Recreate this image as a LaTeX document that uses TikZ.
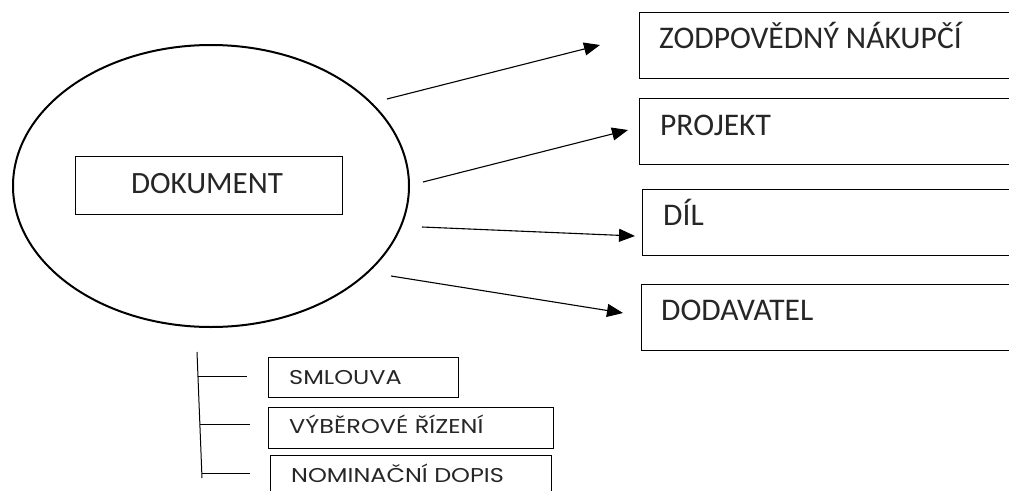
\documentclass[tikz,border=0pt]{standalone}
\usepackage{fontspec}
\newfontfamily\boxfont{Carlito}
\newfontfamily\smallfont[FakeStretch=1.2]{Poppins}
\usetikzlibrary{arrows.meta,shapes.geometric}
\begin{document}
\begin{tikzpicture}[x=1pt,y=-1pt,
  frame/.style={draw=black,line width=1.2pt,rectangle,inner sep=0pt,anchor=north west},
  bigtext/.style={inner sep=0pt,anchor=base west,font=\boxfont\fontsize{31.5}{31.5}\selectfont,text=black!85},
  smalltext/.style={inner sep=0pt,anchor=base west,font=\smallfont\fontsize{20}{20}\selectfont,text=black!85},
  link/.style={line width=1.1pt,-{Triangle[length=16pt,width=13pt]}},
  tick/.style={line width=1pt}]
\useasboundingbox (0,0) rectangle (1009,490);
% central ellipse
\node[draw,ellipse,line width=2pt,minimum width=396pt,minimum height=282pt,inner sep=0pt] (doc) at (211,186) {};
\node[frame,minimum width=267pt,minimum height=58pt] (dokbox) at (75,156) {};
\node[inner sep=0pt,anchor=base,font=\boxfont\fontsize{31}{31}\selectfont,text=black!85] (doktext) at (207,193) {DOKUMENT};
% right boxes
\node[frame,minimum width=390pt,minimum height=66pt] (b1) at (639,12) {};
\node[bigtext] (t1) at (659,48) {ZODPOVĚDNÝ NÁKUPČÍ};
\node[frame,minimum width=390pt,minimum height=66pt] (b2) at (639,98) {};
\node[bigtext] (t2) at (660,135) {PROJEKT};
\node[frame,minimum width=390pt,minimum height=66pt] (b3) at (642,189) {};
\node[bigtext] (t3) at (663,225) {DÍL};
\node[frame,minimum width=390pt,minimum height=66pt] (b4) at (641,284) {};
\node[bigtext] (t4) at (661,320) {DODAVATEL};
% arrows
\coordinate (s1) at (387,99);  \coordinate (e1) at (600,45);
\coordinate (s2) at (423,182); \coordinate (e2) at (628,130);
\coordinate (s3) at (422,227); \coordinate (e3) at (635,236);
\coordinate (s4) at (391,276); \coordinate (e4) at (623,313);
\draw[link] (s1) -- (e1);
\draw[link] (s2) -- (e2);
\draw[link] (s3) -- (e3);
\draw[link] (s4) -- (e4);
% lower list
\node[frame,minimum width=190pt,minimum height=40pt] (c1) at (268,357) {};
\node[smalltext] (u1) at (289,384) {SMLOUVA};
\node[frame,minimum width=285pt,minimum height=41pt] (c2) at (268,407) {};
\node[smalltext] (u2) at (289,433) {VÝBĚROVÉ ŘÍZENÍ};
\node[frame,minimum width=281pt,minimum height=50pt] (c3) at (270,455) {};
\node[smalltext] (u3) at (291,482) {NOMINAČNÍ DOPIS};
\coordinate (vtop) at (197,352);
\coordinate (vbot) at (202,478);
\coordinate (h1a) at (197.9,376); \coordinate (h1b) at (247,376);
\coordinate (h2a) at (199.9,424); \coordinate (h2b) at (250,424);
\coordinate (h3a) at (201.9,473); \coordinate (h3b) at (250,473);
\draw[tick] (vtop) -- (vbot);
\draw[tick] (h1a) -- (h1b);
\draw[tick] (h2a) -- (h2b);
\draw[tick] (h3a) -- (h3b);
\end{tikzpicture}
\end{document}
